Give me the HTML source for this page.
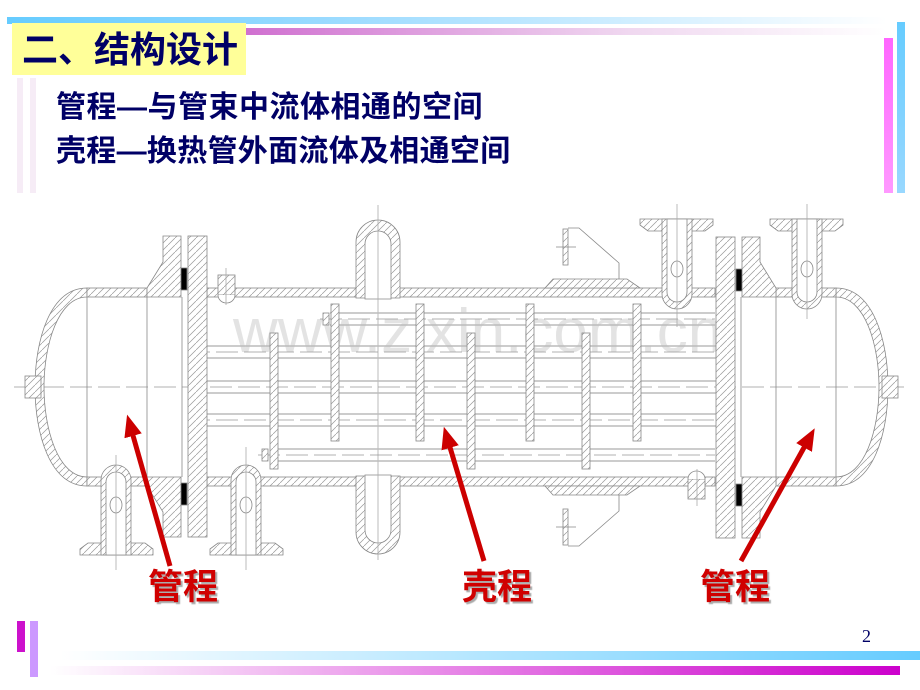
<!DOCTYPE html>
<html><head><meta charset="utf-8"><style>
html,body{margin:0;padding:0;background:#fff;}
body{width:920px;height:690px;position:relative;overflow:hidden;font-family:"Liberation Sans","Noto Sans CJK SC",sans-serif;}
.a{position:absolute;}
</style></head><body>
<div class="a" style="left:7px;top:17px;width:880px;height:7px;background:linear-gradient(90deg,#66ccff,#9fdcff 40%,#fff 100%)"></div>
<div class="a" style="left:246px;top:28px;width:640px;height:7px;background:linear-gradient(90deg,#d070d0,#f0d8f0 60%,#fff 100%)"></div>
<div class="a" style="left:12px;top:23px;width:234px;height:52px;background:#ffff99"></div>
<div class="a" style="left:22px;top:28px;font-size:36px;line-height:44px;color:#000066;font-weight:bold;white-space:nowrap">二、结构设计</div>
<div class="a" style="left:17px;top:78px;width:6px;height:115px;background:#f6ecf6"></div>
<div class="a" style="left:30px;top:78px;width:6px;height:115px;background:#f6ecf6"></div>
<div class="a" style="left:884px;top:38px;width:9px;height:155px;background:linear-gradient(#ff66ff,#ff99ff)"></div>
<div class="a" style="left:897px;top:22px;width:8px;height:171px;background:linear-gradient(#66ccff,#99d8ff)"></div>
<div class="a" style="left:56px;top:88px;font-size:30px;line-height:40px;color:#000066;font-weight:bold;white-space:nowrap;letter-spacing:0.5px">管程—与管束中流体相通的空间</div>
<div class="a" style="left:56px;top:132px;font-size:30px;line-height:40px;color:#000066;font-weight:bold;white-space:nowrap;letter-spacing:0.3px">壳程—换热管外面流体及相通空间</div>

<svg class="a" style="left:0;top:0" width="920" height="690" viewBox="0 0 920 690">
<defs>
<pattern id="h" patternUnits="userSpaceOnUse" width="7" height="7"><rect width="7" height="7" fill="#fff"/><path d="M-1,8 L8,-1" stroke="#999" stroke-width="0.7"/></pattern>
<marker id="ar" markerUnits="userSpaceOnUse" markerWidth="22" markerHeight="20" refX="4" refY="10" orient="auto"><path d="M0,1 L22,10 L0,19 Z" fill="#cc0000"/></marker>
<g id="endg" stroke="#888" stroke-width="0.8">
 <path d="M87,288 C50,288 35,340 35,387 C35,434 50,486 87,486 L87,477 C58,477 44,429 44,387 C44,345 58,297 87,297 Z" fill="url(#h)"/>
 <rect x="25" y="376" width="16" height="22" fill="url(#h)"/>
 <rect x="87" y="288" width="60" height="9" fill="url(#h)"/>
 <rect x="87" y="477" width="60" height="9" fill="url(#h)"/>
 <line x1="87" y1="297" x2="87" y2="477"/><line x1="147" y1="297" x2="147" y2="477"/>
 <path d="M163,236 L181,236 L181,297 L147,297 L147,288 L163,262 Z" fill="url(#h)"/>
 <path d="M163,537 L181,537 L181,477 L147,477 L147,486 L163,512 Z" fill="url(#h)"/>
 <line x1="182" y1="297" x2="182" y2="477"/>
 <rect x="181" y="268" width="6" height="22" fill="#000"/>
 <rect x="181" y="483" width="6" height="22" fill="#000"/>
 <rect x="188" y="236" width="19" height="301" fill="url(#h)"/>
 <path d="M80,555 L80,549 L88,543 L145,543 L153,549 L153,555 Z" fill="url(#h)"/>
 <path d="M101,555 L101,480 A15,15 0 0 1 131,480 L131,555 Z" fill="url(#h)"/>
 <path d="M106,555 L106,482 A10,10 0 0 1 126,482 L126,555 Z" fill="#fff"/>
 <ellipse cx="116" cy="505" rx="6" ry="8" fill="none"/>
 <line x1="116" y1="455" x2="116" y2="570" stroke="#aaa"/>
 <path d="M210,555 L210,549 L218,543 L275,543 L283,549 L283,555 Z" fill="url(#h)"/>
 <path d="M231,555 L231,480 A15,15 0 0 1 261,480 L261,555 Z" fill="url(#h)"/>
 <path d="M236,555 L236,482 A10,10 0 0 1 256,482 L256,555 Z" fill="#fff"/>
 <ellipse cx="246" cy="505" rx="6" ry="8" fill="none"/>
 <line x1="246" y1="447" x2="246" y2="570" stroke="#aaa"/>
 <rect x="218" y="275" width="17" height="20" fill="url(#h)"/>
 <path d="M218,295 A8.5,8 0 0 0 235,295" fill="#fff"/>
 <line x1="226" y1="268" x2="226" y2="305" stroke="#aaa"/>
</g>
</defs>

<text x="233" y="352" font-family="Liberation Sans,sans-serif" font-size="62" fill="#e3e3e3">www.zixin.com.cn</text>

<g stroke="#888" stroke-width="0.8" fill="none">
 <rect x="207" y="288" width="508" height="9" fill="url(#h)"/>
 <rect x="207" y="477" width="508" height="9" fill="url(#h)"/>
 <path d="M356,298 L356,242 A22,22 0 0 1 400,242 L400,298 Z" fill="url(#h)"/>
 <path d="M365,299 L365,244 A13,13 0 0 1 391,244 L391,299 Z" fill="#fff"/>
 <path d="M356,476 L356,532 A22,22 0 0 0 400,532 L400,476 Z" fill="url(#h)"/>
 <path d="M365,475 L365,530 A13,13 0 0 0 391,530 L391,475 Z" fill="#fff"/>
 <line x1="378" y1="205" x2="378" y2="560" stroke="#aaa"/>
 <path d="M545,288 L553,279 L627,279 L640,288 Z" fill="url(#h)"/>
 <rect x="563" y="229" width="5" height="36" fill="url(#h)"/>
 <path d="M568,228 L579,228 L619,263 L619,279"/>
 <line x1="556" y1="247" x2="576" y2="247"/>
 <path d="M545,486 L553,495 L627,495 L640,486 Z" fill="url(#h)"/>
 <rect x="563" y="509" width="5" height="36" fill="url(#h)"/>
 <path d="M568,546 L579,546 L619,511 L619,495"/>
 <line x1="556" y1="527" x2="576" y2="527"/>
 <g stroke="#bbb" stroke-width="1.5">
  <line x1="188" y1="346" x2="735" y2="346"/><line x1="188" y1="358" x2="735" y2="358"/>
  <line x1="188" y1="381" x2="735" y2="381"/><line x1="188" y1="393" x2="735" y2="393"/>
  <line x1="188" y1="414" x2="735" y2="414"/><line x1="188" y1="426" x2="735" y2="426"/>
  <line x1="330" y1="313" x2="715" y2="313"/><line x1="330" y1="325" x2="715" y2="325"/>
  <line x1="275" y1="449" x2="715" y2="449"/><line x1="275" y1="461" x2="715" y2="461"/>
 </g>
 <g stroke="#999" stroke-dasharray="22,6">
  <line x1="14" y1="387" x2="908" y2="387"/>
  <line x1="188" y1="352" x2="735" y2="352"/>
  <line x1="188" y1="420" x2="735" y2="420"/>
  <line x1="320" y1="319" x2="715" y2="319"/>
  <line x1="258" y1="455" x2="715" y2="455"/>
 </g>
 <rect x="270" y="333" width="8" height="136" fill="url(#h)"/>
 <rect x="331" y="304" width="8" height="137" fill="url(#h)"/>
 <rect x="416" y="304" width="8" height="137" fill="url(#h)"/>
 <rect x="467" y="333" width="8" height="136" fill="url(#h)"/>
 <rect x="526" y="304" width="8" height="137" fill="url(#h)"/>
 <rect x="582" y="333" width="8" height="136" fill="url(#h)"/>
 <rect x="633" y="304" width="8" height="137" fill="url(#h)"/>
 <rect x="323" y="313" width="6" height="12" fill="url(#h)"/>
 <rect x="262" y="449" width="6" height="12" fill="url(#h)"/>
</g>
<use href="#endg"/>
<use href="#endg" transform="rotate(180 461.5 387)"/>

<g stroke="#cc0000" stroke-width="5" fill="none">
 <line x1="170" y1="566" x2="132" y2="432" marker-end="url(#ar)"/>
 <line x1="484" y1="561" x2="449" y2="444" marker-end="url(#ar)"/>
 <line x1="741" y1="561" x2="806" y2="444" marker-end="url(#ar)"/>
</g>
</svg>

<div class="a" style="left:148px;top:567px;font-size:35px;line-height:42px;color:#d00000;font-weight:bold;text-shadow:2px 2px 1px #aaa;white-space:nowrap">管程</div>
<div class="a" style="left:462px;top:567px;font-size:35px;line-height:42px;color:#d00000;font-weight:bold;text-shadow:2px 2px 1px #aaa;white-space:nowrap">壳程</div>
<div class="a" style="left:700px;top:567px;font-size:35px;line-height:42px;color:#d00000;font-weight:bold;text-shadow:2px 2px 1px #aaa;white-space:nowrap">管程</div>

<div class="a" style="left:17px;top:621px;width:8px;height:31px;background:#cc11cc"></div>
<div class="a" style="left:30px;top:621px;width:8px;height:56px;background:#cc99ff"></div>
<div class="a" style="left:60px;top:651px;width:860px;height:9px;background:linear-gradient(90deg,#fff,#66ccff)"></div>
<div class="a" style="left:50px;top:666px;width:850px;height:9px;background:linear-gradient(90deg,#fff,#cc00cc)"></div>
<div class="a" style="left:862px;top:626px;font-family:'Liberation Serif',serif;font-size:18px;color:#000066">2</div>
</body></html>
